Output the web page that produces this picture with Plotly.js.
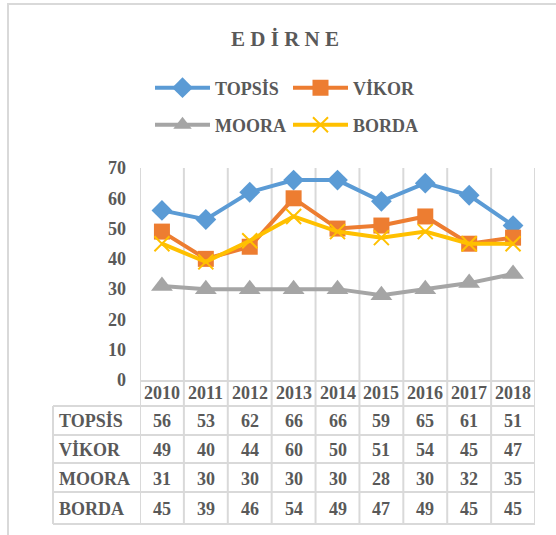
<!DOCTYPE html>
<html>
<head>
<meta charset="utf-8">
<script src="https://cdn.plot.ly/plotly-3.0.1.min.js"></script>
<style>html,body{margin:0;padding:0;background:#fff;}#chart{width:556px;height:535px;}</style>
</head>
<body>
<div id="chart"></div>
<script>
const years = ['2010','2011','2012','2013','2014','2015','2016','2017','2018'];
const seriesNames = ['TOPSİS','VİKOR','MOORA','BORDA'];
const topsis = [56,53,62,66,66,59,65,61,51];
const vikor  = [49,40,44,60,50,51,54,45,47];
const moora  = [31,30,30,30,30,28,30,32,35];
const borda  = [45,39,46,54,49,47,49,45,45];
const yTicks = [0,10,20,30,40,50,60,70];

const W = 556, H = 535;
const L = 140, R = 535, T = 168, B = 380;
const px2x = p => (p - L) / (R - L);
const px2y = p => (B - p) / (B - T);

const FONT = 'Liberation Serif, Times New Roman, serif';
const TXT = '#595959';
const GRID = '#D9D9D9';

const seriesData = [topsis, vikor, moora, borda];
const colors = ['#5B9BD5', '#ED7D31', '#A5A5A5', '#FFC000'];
const symbols = ['diamond', 'square', 'triangle-up', 'x-thin'];
const sizes = [16, 16, 19, 15];
const legendIds = ['legend', 'legend', 'legend2', 'legend2'];

const traces = seriesData.map((vals, k) => ({
  type: 'scatter',
  mode: 'lines+markers',
  name: seriesNames[k],
  x: years,
  y: vals,
  legend: legendIds[k],
  line: {color: colors[k], width: 4},
  marker: {
    symbol: symbols[k],
    size: sizes[k],
    color: colors[k],
    line: {color: colors[k], width: symbols[k] === 'x-thin' ? 2 : 0}
  },
  cliponaxis: false,
  hoverinfo: 'x+y+name'
}));

// table geometry (pixels)
const headerTop = 381;
const rowBounds = [406, 435, 463, 492, 524];
const rowCenters = [421, 450, 479, 509];
const headerCenter = 393;
const tableLeft = 53;

const shapes = [];
const lineStyle = {color: GRID, width: 2};
// vertical grid + table column lines
for (let i = 0; i <= years.length; i++) {
  shapes.push({type: 'line', xref: 'x', yref: 'paper', x0: i - 0.5, x1: i - 0.5,
    y0: px2y(rowBounds[rowBounds.length - 1]), y1: 1, line: lineStyle, layer: 'below'});
}
// header top line
shapes.push({type: 'line', xref: 'paper', yref: 'paper', x0: 0, x1: 1,
  y0: px2y(headerTop), y1: px2y(headerTop), line: lineStyle, layer: 'below'});
// row lines
rowBounds.forEach(p => shapes.push({type: 'line', xref: 'paper', yref: 'paper',
  x0: px2x(tableLeft), x1: 1, y0: px2y(p), y1: px2y(p), line: lineStyle, layer: 'below'}));
// table left line
shapes.push({type: 'line', xref: 'paper', yref: 'paper', x0: px2x(tableLeft), x1: px2x(tableLeft),
  y0: px2y(rowBounds[0]), y1: px2y(rowBounds[rowBounds.length - 1]), line: lineStyle, layer: 'below'});
// outer chart border (top and left)
shapes.push({type: 'line', xref: 'paper', yref: 'paper', x0: px2x(7), x1: px2x(W),
  y0: px2y(4), y1: px2y(4), line: lineStyle});
shapes.push({type: 'line', xref: 'paper', yref: 'paper', x0: px2x(8), x1: px2x(8),
  y0: px2y(4), y1: px2y(H), line: lineStyle});

const annotations = [];
const cellFont = {family: FONT, size: 18, color: TXT, weight: 'bold'};
years.forEach((y, i) => annotations.push({xref: 'x', yref: 'paper', x: i, y: px2y(headerCenter),
  text: y, showarrow: false, xanchor: 'center', yanchor: 'middle', font: cellFont}));
seriesData.forEach((vals, k) => {
  annotations.push({xref: 'paper', yref: 'paper', x: px2x(57), y: px2y(rowCenters[k]),
    text: seriesNames[k], showarrow: false, xanchor: 'left', yanchor: 'middle', font: cellFont});
  vals.forEach((v, i) => annotations.push({xref: 'x', yref: 'paper', x: i, y: px2y(rowCenters[k]),
    text: String(v), showarrow: false, xanchor: 'center', yanchor: 'middle', font: cellFont}));
});

const legendCommon = {
  orientation: 'h', xref: 'paper', yref: 'paper', xanchor: 'left', yanchor: 'middle',
  font: {family: FONT, size: 18, color: TXT, weight: 'bold'},
  bgcolor: 'rgba(0,0,0,0)', borderwidth: 0, itemwidth: 55,
  entrywidth: 68, entrywidthmode: 'pixels', itemclick: false, itemdoubleclick: false,
  traceorder: 'normal'
};

const layout = {
  width: W, height: H,
  margin: {l: L, r: W - R, t: T, b: H - B, pad: 0},
  paper_bgcolor: '#fff', plot_bgcolor: '#fff',
  showlegend: true,
  title: {
    text: 'E D İ R N E', xref: 'container', yref: 'container',
    x: 285 / W, y: 1 - 39 / H, xanchor: 'center', yanchor: 'middle',
    font: {family: FONT, size: 21, color: TXT, weight: 'bold'}
  },
  legend: Object.assign({}, legendCommon, {x: px2x(150), y: px2y(88)}),
  legend2: Object.assign({}, legendCommon, {x: px2x(150), y: px2y(125)}),
  xaxis: {
    type: 'category', range: [-0.5, years.length - 0.5], showgrid: false,
    showticklabels: false, ticks: '', zeroline: false, showline: false, fixedrange: true
  },
  yaxis: {
    range: [0, 70], tickvals: yTicks, ticktext: yTicks.map(String), showgrid: false,
    zeroline: false, showline: false, ticks: '', ticklabelstandoff: 13,
    tickfont: {family: FONT, size: 18, color: TXT, weight: 'bold'}, fixedrange: true
  },
  shapes: shapes,
  annotations: annotations
};

Plotly.newPlot('chart', traces, layout, {displayModeBar: false});
</script>
</body>
</html>
